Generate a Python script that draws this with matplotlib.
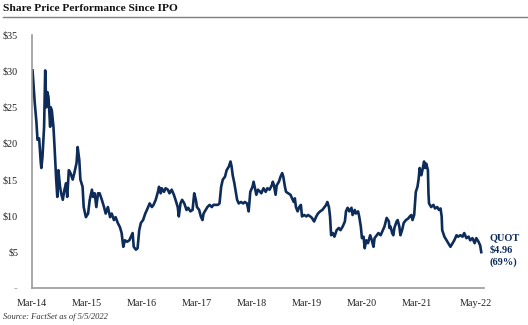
import matplotlib
matplotlib.use("Agg")
import matplotlib.pyplot as plt
from matplotlib.lines import Line2D

# ---- data (decimal year, share price $) ----
dates = [
    2014.18, 2014.22, 2014.25, 2014.27, 2014.30, 2014.33, 2014.34, 2014.36, 2014.39, 2014.41,
    2014.43, 2014.45, 2014.47, 2014.50, 2014.51, 2014.53, 2014.56, 2014.58, 2014.61, 2014.63,
    2014.65, 2014.68, 2014.70, 2014.73, 2014.76, 2014.79, 2014.81, 2014.84, 2014.87, 2014.91,
    2014.94, 2014.98, 2015.00, 2015.03, 2015.05, 2015.09, 2015.11, 2015.15, 2015.19, 2015.22,
    2015.26, 2015.28, 2015.31, 2015.34, 2015.37, 2015.40, 2015.44, 2015.48, 2015.51, 2015.55,
    2015.59, 2015.62, 2015.66, 2015.69, 2015.73, 2015.77, 2015.80, 2015.83, 2015.86, 2015.90,
    2015.94, 2015.97, 2016.00, 2016.02, 2016.06, 2016.09, 2016.12, 2016.15, 2016.19, 2016.23,
    2016.26, 2016.31, 2016.35, 2016.38, 2016.42, 2016.46, 2016.48, 2016.51, 2016.53, 2016.57,
    2016.60, 2016.64, 2016.67, 2016.71, 2016.75, 2016.78, 2016.82, 2016.84, 2016.87, 2016.90,
    2016.94, 2016.98, 2017.01, 2017.05, 2017.09, 2017.12, 2017.15, 2017.17, 2017.21, 2017.24,
    2017.27, 2017.29, 2017.33, 2017.36, 2017.40, 2017.44, 2017.47, 2017.51, 2017.55, 2017.58,
    2017.61, 2017.64, 2017.68, 2017.71, 2017.75, 2017.78, 2017.80, 2017.82, 2017.85, 2017.87,
    2017.90, 2017.93, 2017.97, 2018.01, 2018.04, 2018.08, 2018.11, 2018.14, 2018.18, 2018.20,
    2018.22, 2018.25, 2018.28, 2018.32, 2018.34, 2018.38, 2018.42, 2018.45, 2018.49, 2018.53,
    2018.55, 2018.57, 2018.60, 2018.62, 2018.66, 2018.69, 2018.72, 2018.74, 2018.77, 2018.79,
    2018.83, 2018.87, 2018.90, 2018.93, 2018.95, 2018.97, 2019.00, 2019.03, 2019.06, 2019.08,
    2019.12, 2019.16, 2019.19, 2019.23, 2019.26, 2019.30, 2019.34, 2019.37, 2019.41, 2019.45,
    2019.48, 2019.52, 2019.54, 2019.57, 2019.59, 2019.61, 2019.64, 2019.67, 2019.71, 2019.75,
    2019.78, 2019.82, 2019.86, 2019.88, 2019.91, 2019.94, 2019.98, 2020.00, 2020.04, 2020.06,
    2020.10, 2020.12, 2020.15, 2020.17, 2020.20, 2020.22, 2020.25, 2020.28, 2020.32, 2020.35,
    2020.38, 2020.40, 2020.44, 2020.47, 2020.51, 2020.55, 2020.58, 2020.62, 2020.66, 2020.67,
    2020.69, 2020.72, 2020.74, 2020.76, 2020.80, 2020.82, 2020.85, 2020.87, 2020.90, 2020.93,
    2020.97, 2021.01, 2021.04, 2021.07, 2021.09, 2021.12, 2021.14, 2021.15, 2021.18, 2021.20,
    2021.22, 2021.25, 2021.27, 2021.30, 2021.32, 2021.34, 2021.37, 2021.38, 2021.39, 2021.43,
    2021.47, 2021.50, 2021.54, 2021.57, 2021.60, 2021.62, 2021.63, 2021.67, 2021.71, 2021.74,
    2021.78, 2021.82, 2021.85, 2021.89, 2021.92, 2021.96, 2022.00, 2022.03, 2022.07, 2022.11,
    2022.14, 2022.18, 2022.22, 2022.25, 2022.29, 2022.32, 2022.34,
]
prices = [
    30.1, 25.6, 23.0, 20.5, 20.7, 17.3, 16.6, 18.1, 22.3, 30.1,
    25.0, 27.1, 26.4, 22.3, 25.0, 24.6, 22.3, 19.5, 15.0, 12.6,
    16.3, 14.0, 13.1, 12.2, 13.6, 14.5, 12.6, 16.3, 15.9, 15.0,
    15.9, 17.3, 19.5, 17.7, 15.0, 14.0, 11.2, 9.8, 10.3, 12.2,
    13.6, 12.6, 13.1, 11.2, 13.1, 13.1, 12.2, 11.2, 10.3, 11.2,
    9.8, 10.3, 9.4, 9.8, 9.0, 8.4, 7.6, 5.7, 6.6, 6.4,
    6.6, 7.1, 7.6, 5.7, 5.3, 5.5, 8.0, 9.0, 9.4, 10.3,
    10.8, 11.7, 11.2, 11.5, 12.2, 13.3, 14.0, 13.1, 13.8, 13.3,
    13.8, 13.6, 13.1, 13.6, 12.9, 12.2, 11.2, 9.9, 11.7, 12.2,
    11.7, 10.8, 11.1, 10.6, 10.8, 13.1, 12.2, 11.2, 10.8, 9.9,
    9.4, 10.3, 10.8, 11.2, 11.5, 11.2, 11.5, 11.5, 11.5, 11.7,
    14.0, 15.0, 15.4, 16.3, 16.8, 17.5, 16.8, 15.6, 14.5, 13.6,
    12.2, 11.7, 11.9, 11.7, 11.9, 11.7, 10.6, 13.3, 14.0, 14.7,
    14.0, 12.9, 13.6, 13.3, 13.1, 13.8, 13.3, 13.8, 13.6, 14.2,
    14.7, 14.2, 12.9, 14.2, 14.7, 15.4, 15.9, 15.4, 14.0, 13.3,
    13.1, 12.9, 12.4, 11.9, 12.4, 11.2, 10.6, 11.2, 11.5, 9.9,
    10.1, 9.9, 10.1, 9.9, 9.7, 9.2, 9.9, 10.3, 10.6, 10.8,
    11.1, 11.5, 11.9, 11.2, 9.9, 7.3, 7.6, 7.1, 8.0, 8.3,
    8.0, 8.5, 9.2, 10.6, 11.1, 10.6, 11.1, 10.1, 10.8, 10.3,
    10.6, 9.9, 8.5, 6.9, 7.1, 5.5, 6.6, 6.2, 7.3, 6.6,
    5.7, 6.9, 7.3, 7.6, 7.3, 8.0, 8.5, 9.7, 9.2, 8.3,
    8.5, 7.6, 7.3, 8.3, 9.2, 9.4, 8.5, 7.3, 8.0, 9.0,
    9.4, 9.6, 9.9, 10.1, 9.4, 10.1, 12.2, 13.3, 14.0, 15.0,
    16.6, 15.6, 16.3, 17.5, 16.6, 17.2, 16.3, 13.1, 11.7, 11.2,
    11.5, 11.0, 11.2, 10.8, 11.0, 9.9, 8.0, 7.1, 6.6, 6.2,
    5.7, 6.2, 6.6, 7.3, 7.1, 7.3, 7.1, 7.6, 6.9, 7.1,
    6.6, 6.9, 6.2, 6.9, 6.4, 5.9, 4.96,
]

x_tick_pos = [2014.17, 2015.17, 2016.17, 2017.17, 2018.17, 2019.17, 2020.17, 2021.17, 2022.25]
x_tick_labels = ["Mar-14", "Mar-15", "Mar-16", "Mar-17", "Mar-18", "Mar-19", "Mar-20", "Mar-21", "May-22"]
y_tick_pos = [0, 5, 10, 15, 20, 25, 30, 35]
y_tick_labels = ["--", "$5", "$10", "$15", "$20", "$25", "$30", "$35"]

title = "Share Price Performance Since IPO"
source = "Source: FactSet as of 5/5/2022"
annot = ["QUOT", "$4.96", "(69%)"]

NAVY = "#0e2c5a"
SERIF = ["Liberation Serif", "DejaVu Serif"]

plt.rcParams["font.family"] = SERIF

fig = plt.figure(figsize=(5.28, 3.25), dpi=100)
ax = fig.add_axes([32 / 528, 1 - 288 / 325, (484 - 32) / 528, (288 - 35) / 325])

ax.plot(dates, prices, color=NAVY, lw=1.9, solid_joinstyle="round")

ax.set_xlim(2014.17, 2022.39)
ax.set_ylim(0, 35)
ax.set_xticks(x_tick_pos)
ax.set_xticklabels(x_tick_labels)
ax.set_yticks(y_tick_pos)
ax.set_yticklabels(y_tick_labels)
ax.tick_params(axis="both", length=0, labelsize=7.3, colors="#222222")
ax.tick_params(axis="y", pad=10)
ax.tick_params(axis="x", pad=8)
ax.get_yticklabels()[0].set_fontsize(5)
ax.get_yticklabels()[0].set_color("#666666")

for s in ["top", "right"]:
    ax.spines[s].set_visible(False)
for s in ["left", "bottom"]:
    ax.spines[s].set_color("#9a9a9a")
    ax.spines[s].set_linewidth(1.2)

# title and rule
fig.text(3 / 528, 1 - 8.5 / 325, title, fontsize=8.2, fontweight="bold",
         va="center", ha="left", color="#111111")
fig.add_artist(Line2D([3 / 528, 1.0], [1 - 17 / 325, 1 - 17 / 325],
                      transform=fig.transFigure, color="#7f7f7f", lw=1.0))

# source
fig.text(3 / 528, 1 - 317 / 325, source, fontsize=6.1, style="italic",
         va="center", ha="left", color="#333333")

# annotation at end of line
for i, t in enumerate(annot):
    fig.text(490 / 528, 1 - (238 + 12 * i) / 325, t, fontsize=7.5, fontweight="bold",
             color=NAVY, va="center", ha="left")

fig.savefig("out.png", dpi=100)
